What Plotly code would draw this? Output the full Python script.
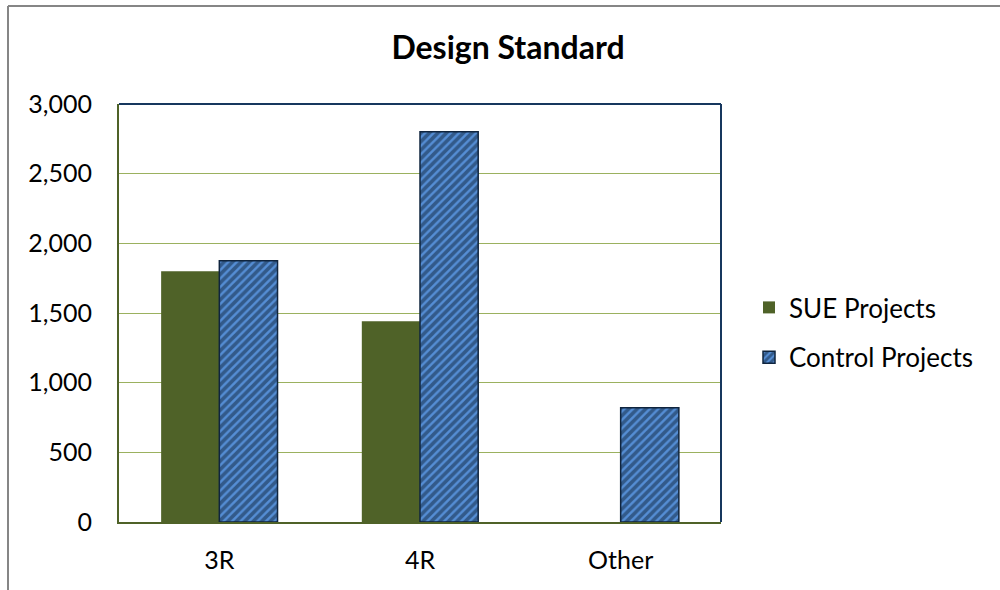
import plotly.graph_objects as go

# Project counts by design standard
categories = ["3R", "4R", "Other"]
sue_projects = [1800, 1440, 0]
control_projects = [1875, 2800, 820]
y_ticks = [0, 500, 1000, 1500, 2000, 2500, 3000]
y_tick_labels = ["0", "500", "1,000", "1,500", "2,000", "2,500", "3,000"]

FONT = "Lato, Carlito, Calibri, sans-serif"
OLIVE = "#4F6228"
NAVY = "#17375E"

W, H = 1000, 590
L, R, T, B = 119, 279, 104, 68
pw, ph = W - L - R, H - T - B

fig = go.Figure()
fig.add_trace(go.Bar(
    name="SUE Projects", x=categories, y=sue_projects,
    marker=dict(color=OLIVE, line=dict(width=0)),
    legendgroup="a",
))
fig.add_trace(go.Bar(
    name="Control Projects", x=categories, y=control_projects,
    marker=dict(
        color="#558ED5",
        line=dict(color="#0F243E", width=1.5),
        pattern=dict(shape="/", fgcolor="#10253F", bgcolor="#558ED5",
                     size=6, solidity=0.6, fillmode="overlay"),
    ),
    legendgroup="b",
))

# outer chart frame (left and top edges), plus navy top/right plot borders
def px(x):
    return (x - L) / pw

def py(y):
    return 1 - (y - T) / ph

shapes = [
    dict(type="line", xref="paper", yref="paper", x0=px(8), x1=px(8), y0=py(592), y1=py(6),
         line=dict(color="#868686", width=2)),
    dict(type="line", xref="paper", yref="paper", x0=px(8), x1=px(1002), y0=py(6), y1=py(6),
         line=dict(color="#868686", width=2)),
    dict(type="line", xref="paper", yref="paper", x0=0, x1=1, y0=1, y1=1,
         line=dict(color=NAVY, width=2)),
    dict(type="line", xref="paper", yref="paper", x0=1, x1=1, y0=0, y1=1,
         line=dict(color=NAVY, width=2)),
]

fig.update_layout(
    width=W, height=H,
    margin=dict(l=L, r=R, t=T, b=B),
    paper_bgcolor="white", plot_bgcolor="white",
    font=dict(family=FONT, size=25, color="black"),
    title=dict(text="<b>Design Standard</b>", x=0.508, xref="container", xanchor="center",
               y=1 - 48 / H, yref="container", yanchor="middle",
               font=dict(family=FONT, size=32, color="black")),
    barmode="group", bargap=0.42, bargroupgap=0,
    showlegend=True,
    legend=dict(x=px(749), y=py(284), xanchor="left", yanchor="top",
                traceorder="grouped", tracegroupgap=13,
                font=dict(family=FONT, size=26, color="black"),
                bgcolor="rgba(0,0,0,0)"),
    shapes=shapes,
)
fig.update_xaxes(showline=True, linecolor=OLIVE, linewidth=2, showgrid=False,
                 ticks="", ticklabelstandoff=15, tickfont=dict(size=25))
fig.update_yaxes(range=[0, 3000], tickvals=y_ticks, ticktext=y_tick_labels,
                 showline=True, linecolor=OLIVE, linewidth=2,
                 showgrid=True, gridcolor="#9BB15F", gridwidth=1,
                 zeroline=False, ticks="", ticklabelstandoff=20,
                 tickfont=dict(size=25))

fig.write_html("out.html")
